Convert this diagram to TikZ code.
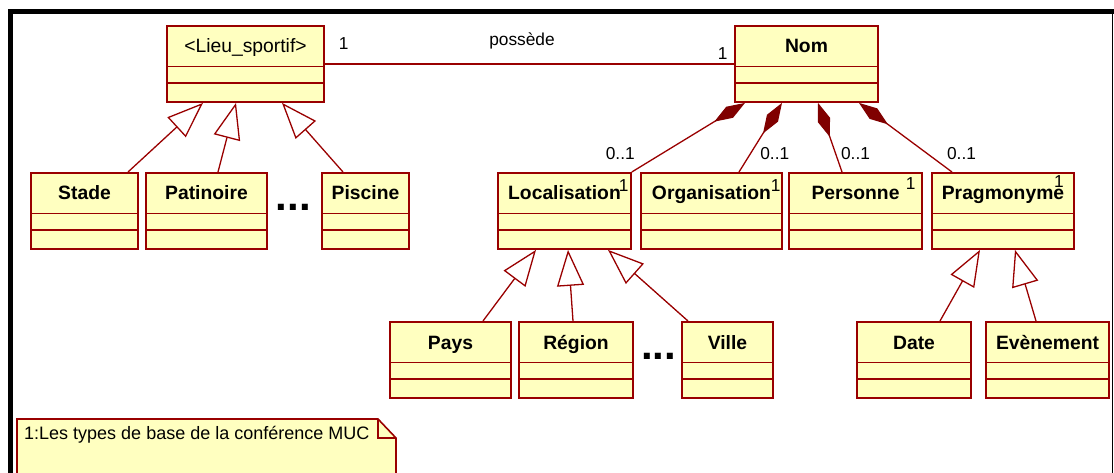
\documentclass[tikz,border=0pt]{standalone}
\usepackage{fontspec}
\setmainfont{Liberation Sans}
\usetikzlibrary{shapes.multipart,arrows.meta,calc}

\definecolor{classfill}{RGB}{255,255,192}
\definecolor{classline}{RGB}{153,0,0}
\definecolor{compofill}{RGB}{128,0,0}

\newcommand{\classname}[1]{\rule[-12.6pt]{0pt}{39pt}#1}
\newcommand{\classparts}{\nodepart{two}\rule{0pt}{15pt}\nodepart{three}\rule{0pt}{17.5pt}}

\begin{document}
\begin{tikzpicture}[x=1pt, y=-1pt,
    umlclass/.style={rectangle split, rectangle split parts=3, draw=classline,
      fill=classfill, line width=1.6pt, inner sep=0pt, anchor=north,
      font=\fontsize{19.3}{23}\selectfont\bfseries},
    link/.style={draw=classline, line width=1.3pt},
    gen/.style={link, -{Triangle[open, length=36pt, width=27pt, fill=white]}},
    compo/.style={link, -{Diamond[length=36pt, width=13pt, fill=compofill, color=compofill]}},
    lbl/.style={font=\fontsize{17.3}{20}\selectfont, inner sep=0pt},
    dots/.style={font=\fontsize{42}{42}\selectfont\bfseries, inner sep=0pt}]
  \useasboundingbox (0,0) rectangle (1114,473);
  % frame
  \fill[black] (8,9) rectangle (1114,14);
  \fill[black] (8,9) rectangle (13,473);
  \draw[line width=1.5pt] (1112.5,14) -- (1112.5,473);

  % classes
  \node[umlclass, minimum width=157pt] (lieu) at (245.5,25)
    {\classname{\mdseries <Lieu\_sportif>}\classparts};
  \node[umlclass, minimum width=143pt] (nom) at (806.5,25) {\classname{Nom}\classparts};
  \node[umlclass, minimum width=107pt] (stade) at (84.5,172) {\classname{Stade}\classparts};
  \node[umlclass, minimum width=121pt] (patinoire) at (206.5,172) {\classname{Patinoire}\classparts};
  \node[umlclass, minimum width=87pt] (piscine) at (365.5,172) {\classname{Piscine}\classparts};
  \node[umlclass, minimum width=133pt] (loc) at (564.5,172) {\classname{Localisation}\classparts};
  \node[umlclass, minimum width=141pt] (orga) at (711.5,172) {\classname{Organisation}\classparts};
  \node[umlclass, minimum width=133pt] (pers) at (855.5,172) {\classname{Personne}\classparts};
  \node[umlclass, minimum width=142pt] (prag) at (1003,172) {\classname{Pragmonyme}\classparts};
  \node[umlclass, minimum width=121pt] (pays) at (450.5,321) {\classname{Pays}\classparts};
  \node[umlclass, minimum width=114pt] (region) at (576,321) {\classname{Région}\classparts};
  \node[umlclass, minimum width=91pt] (ville) at (727.5,321) {\classname{Ville}\classparts};
  \node[umlclass, minimum width=114pt] (date) at (914,321) {\classname{Date}\classparts};
  \node[umlclass, minimum width=123pt] (even) at (1047.5,321) {\classname{Evènement}\classparts};

  \node[dots] (dots1) at (293.5,207) {...};
  \node[dots] (dots2) at (658.5,356) {...};

  % association
  \draw[link] (lieu) -- (nom);
  \node[lbl] (mlieu) at ($(lieu.north east)+(19,19)$) {1};
  \node[lbl] (possede) at (522,41) {possède};
  \node[lbl] (mnom) at ($(nom.north west)+(-11.5,28.5)$) {1};

  % generalisations
  \draw[gen] ($(stade.north)+(43.5,0)$) -- ($(lieu.south)+(-42.5,0)$);
  \draw[gen] ($(patinoire.north)+(11.5,0)$) -- ($(lieu.south)+(-9.5,0)$);
  \draw[gen] ($(piscine.north)+(-22.5,0)$) -- ($(lieu.south)+(36.5,0)$);
  \draw[gen] ($(pays.north)+(32.5,0)$) -- ($(loc.south)+(-28.5,0)$);
  \draw[gen] ($(region.north)+(-3,0)$) -- ($(loc.south)+(3.5,0)$);
  \draw[gen] ($(ville.north)+(-39.5,0)$) -- ($(loc.south)+(43.5,0)$);
  \draw[gen] ($(date.north)+(26,0)$) -- ($(prag.south)+(-23,0)$);
  \draw[gen] ($(even.north)+(-11.5,0)$) -- ($(prag.south)+(12,0)$);

  % compositions
  \draw[compo] (loc.north east) -- ($(nom.south)+(-61.5,0)$);
  \draw[compo] ($(orga.north)+(27.5,0)$) -- ($(nom.south)+(-24.5,0)$);
  \draw[compo] ($(pers.north)+(-13.5,0)$) -- ($(nom.south)+(11.5,0)$);
  \draw[compo] ($(prag.north)+(-51,0)$) -- ($(nom.south)+(52.5,0)$);
  \node[lbl] (mloc) at ($(loc.north east)+(-11.5,-18)$) {0..1};
  \node[lbl] (morga) at ($(orga.north east)+(-8,-18)$) {0..1};
  \node[lbl] (mpers) at ($(pers.north)+(0,-18)$) {0..1};
  \node[lbl] (mprag) at ($(prag.north)+(-41.5,-18)$) {0..1};

  % superscripts
  \node[lbl] (sloc) at ($(loc.north east)+(-8,14)$) {1};
  \node[lbl] (sorga) at ($(orga.north east)+(-7,14)$) {1};
  \node[lbl] (spers) at ($(pers.north east)+(-12,12)$) {1};
  \node[lbl] (sprag) at ($(prag.north east)+(-16,10)$) {1};

  % note
  \draw[draw=classline, fill=classfill, line width=1.6pt]
    (17,419) -- (378,419) -- (396,438) -- (396,480) -- (17,480) -- cycle;
  \draw[draw=classline, line width=1.6pt] (378,419) -- (378,438) -- (396,438);
  \node[lbl, anchor=west, font=\fontsize{18}{21}\selectfont] (note) at (24,435)
    {1:Les types de base de la conférence MUC};
\end{tikzpicture}
\end{document}
